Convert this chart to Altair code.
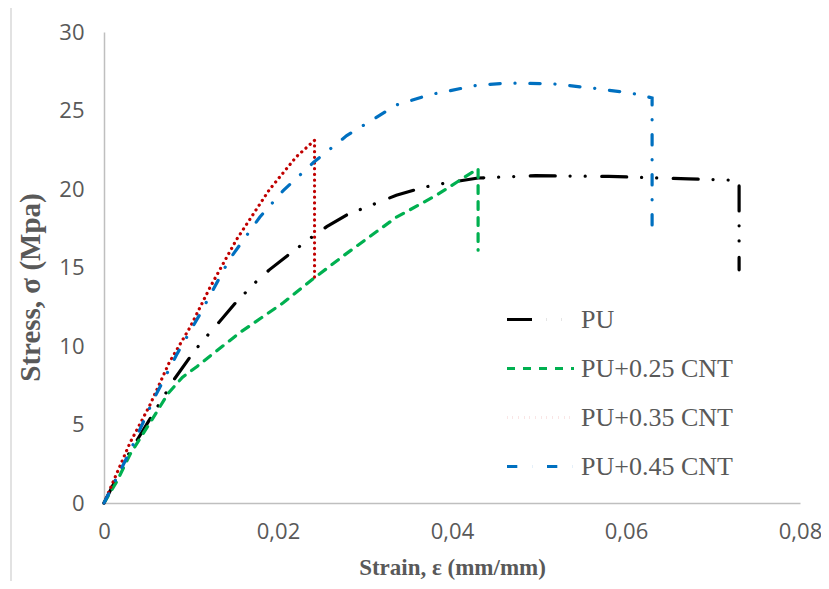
import altair as alt
import pandas as pd

series_names = ["PU", "PU+0.25 CNT", "PU+0.35 CNT", "PU+0.45 CNT"]

pu_strain = [0, 0.0029, 0.0038, 0.0081, 0.0099, 0.011, 0.0132, 0.0152, 0.0175, 0.019, 0.0212,
             0.0238, 0.0256, 0.0279, 0.0336, 0.0367, 0.0384, 0.043, 0.0496, 0.058, 0.0672, 0.073, 0.073]
pu_stress = [0, 3.2, 4.0, 7.9, 9.3, 10.1, 11.5, 12.8, 14.1, 14.85, 15.8,
             16.9, 17.6, 18.35, 19.6, 20.1, 20.3, 20.7, 20.85, 20.8, 20.65, 20.55, 14.85]

cnt25_strain = [0, 0.0015, 0.003, 0.0055, 0.0074, 0.009, 0.0107, 0.0156, 0.0206, 0.0242, 0.0279,
                0.0336, 0.0382, 0.043, 0.043]
cnt25_stress = [0, 1.4, 3.1, 5.3, 7.0, 8.0, 8.7, 10.85, 12.75, 14.35, 15.9,
                18.2, 19.6, 21.3, 16.1]

cnt35_strain = [0, 0.003, 0.0052, 0.0075, 0.0099, 0.0122, 0.0152, 0.019, 0.0221, 0.0242, 0.0242]
cnt35_stress = [0, 3.85, 6.15, 8.95, 11.2, 13.75, 16.75, 19.95, 22.05, 23.1, 14.2]

cnt45_strain = [0, 0.003, 0.0057, 0.0084, 0.011, 0.0144, 0.0179, 0.0206, 0.0241, 0.0279, 0.0336,
                0.0374, 0.0428, 0.0465, 0.0516, 0.0565, 0.0607, 0.063, 0.063]
cnt45_stress = [0, 3.3, 6.6, 9.5, 12.0, 15.5, 18.2, 19.9, 21.7, 23.4, 25.35,
                26.0, 26.6, 26.75, 26.7, 26.4, 26.1, 25.8, 17.7]

x_ticks = [0, 0.02, 0.04, 0.06, 0.08]
y_ticks = [0, 5, 10, 15, 20, 25, 30]

line_colors = ["#000000", "#00B050", "#C00000", "#0070C0"]
line_dashes = [[25, 14.8, 0.1, 15, 0.1, 16.5], [8, 8], [0.1, 5.6], [10.3, 14.8, 0.1, 14.8]]

rows = []
for name, xs, ys in zip(series_names,
                        [pu_strain, cnt25_strain, cnt35_strain, cnt45_strain],
                        [pu_stress, cnt25_stress, cnt35_stress, cnt45_stress]):
    for i, (a, b) in enumerate(zip(xs, ys)):
        rows.append({"series": name, "idx": i, "strain": a, "stress": b})
df = pd.DataFrame(rows)

legend_kw = dict(
    title=None,
    orient="none",
    legendX=401,
    legendY=252,
    symbolType="stroke",
    symbolSize=4489,
    symbolStrokeWidth=3.2,
    labelFont="Liberation Serif",
    labelFontSize=26,
    labelColor="#595959",
    labelOffset=5,
    rowPadding=0,
    padding=0,
)

lines = alt.Chart(df).mark_line(strokeWidth=3.2, strokeCap="round").encode(
    x=alt.X("strain:Q",
            scale=alt.Scale(domain=[0, 0.08], nice=False),
            axis=alt.Axis(values=x_ticks,
                          labelExpr="datum.value == 0 ? '0' : replace(format(datum.value, '.2f'), '.', ',')",
                          title="Strain, ε (mm/mm)")),
    y=alt.Y("stress:Q",
            scale=alt.Scale(domain=[0, 30], nice=False),
            axis=alt.Axis(values=y_ticks, title="Stress, σ (Mpa)", titleX=-59, titleY=255)),
    color=alt.Color("series:N", scale=alt.Scale(domain=series_names, range=line_colors),
                    legend=alt.Legend(**legend_kw)),
    strokeDash=alt.StrokeDash("series:N", scale=alt.Scale(domain=series_names, range=line_dashes),
                              legend=alt.Legend(**legend_kw)),
    order="idx:Q",
)

border = alt.Chart(pd.DataFrame({"a": [0]})).mark_rule(color="#d9d9d9", strokeWidth=1.5).encode(
    x=alt.value(-93), y=alt.value(-32), y2=alt.value(560)
)

chart = alt.layer(border, lines).properties(
    width=696,
    height=471,
    padding={"left": 96, "top": 24, "right": 21, "bottom": 78},
    autosize=alt.AutoSizeParams(type="none"),
).configure_view(
    strokeWidth=0
).configure_axis(
    grid=False,
    ticks=False,
    domainColor="#BFBFBF",
    domainWidth=1.5,
    labelFont="Open Sans",
    labelFontSize=22,
    labelColor="#595959",
    labelFlush=False,
    titleFont="Liberation Serif",
    titleFontWeight="bold",
    titleColor="#595959",
).configure_axisX(
    labelPadding=18,
    titlePadding=14,
    titleFontSize=23,
).configure_axisY(
    labelPadding=20,
    titlePadding=13,
    titleFontSize=29,
)

chart.save("out.html", embed_options={"renderer": "svg", "actions": False})
